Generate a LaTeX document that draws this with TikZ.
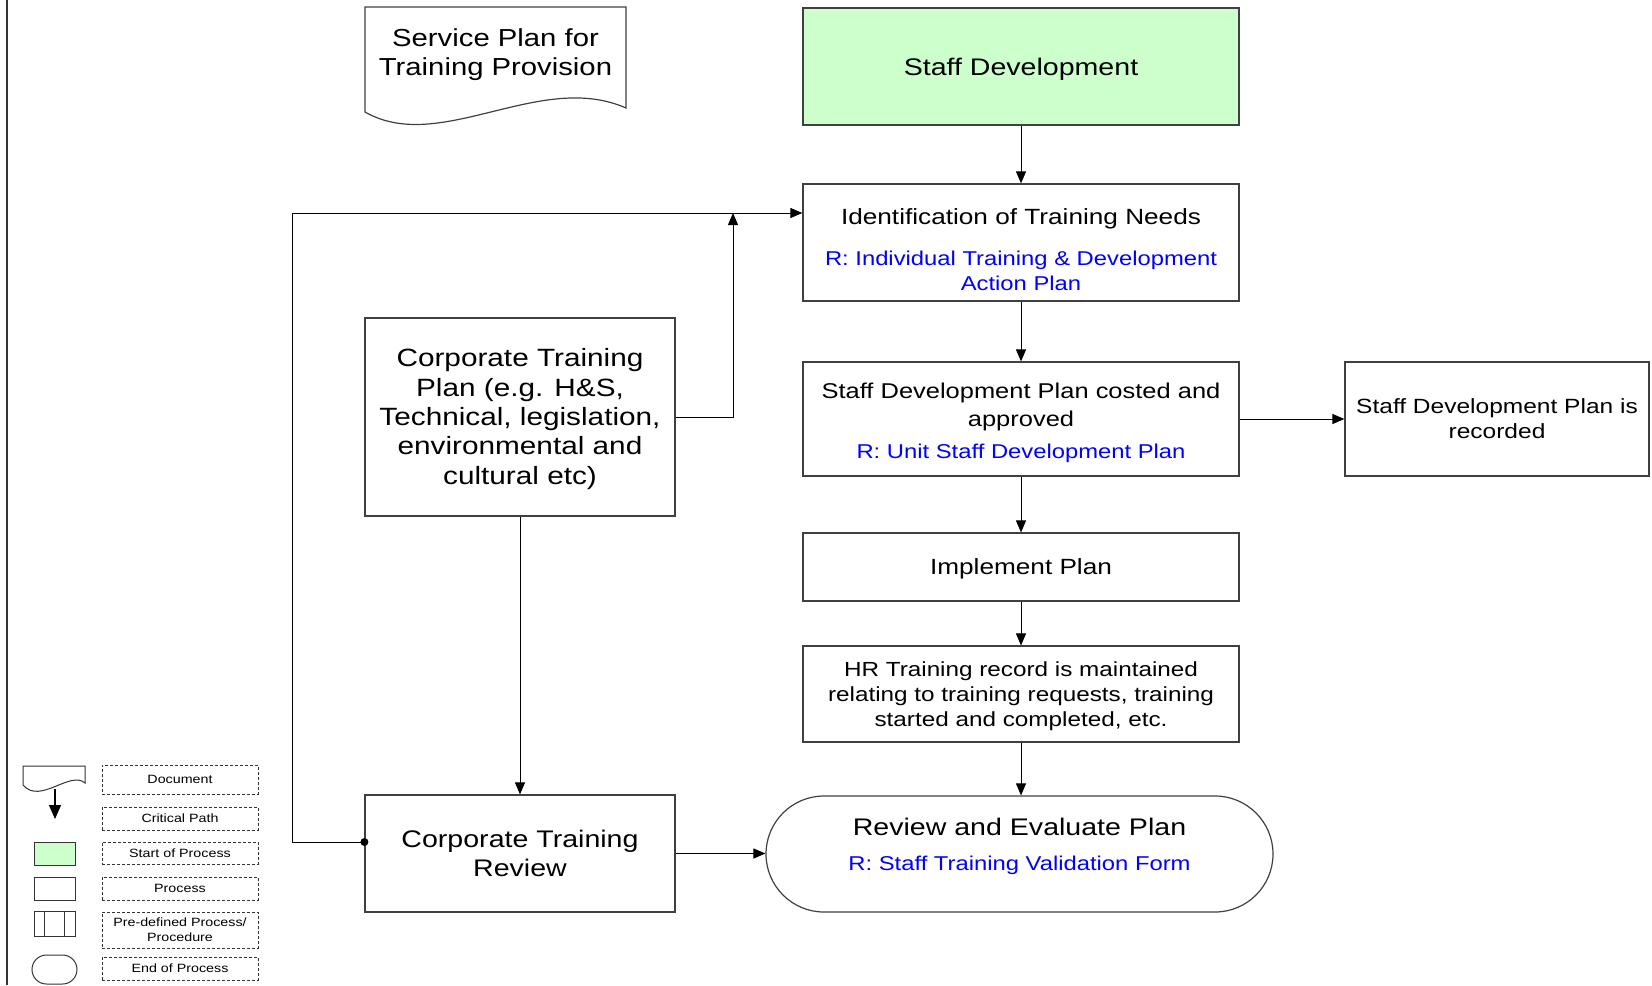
\documentclass[tikz,border=0pt]{standalone}
\usepackage{fontspec}
\setmainfont{Liberation Sans}[FakeStretch=1.19]
\usetikzlibrary{arrows.meta}
\definecolor{startgreen}{HTML}{CCFFCC}
\definecolor{refblue}{HTML}{0000FF}

\begin{document}
\begin{tikzpicture}[x=0.5pt, y=-0.5pt,
                    box/.style={draw=black!75, line width=0.6pt, rectangle, align=center, inner sep=2pt},
                    legbox/.style={draw=black!80, line width=0.4pt, dash pattern=on 1.5pt off 1pt,
                                   align=center, minimum width=78pt, inner sep=1pt,
                                   font=\fontsize{6}{7.5}\selectfont},
                    icon/.style={draw=black!80, line width=0.5pt, minimum width=20.5pt, minimum height=11.5pt, inner sep=0pt},
                    flow/.style={draw=black, line width=0.5pt, -{Triangle[length=6pt,width=5pt]}},
                    dot/.style={circle, fill=black, inner sep=0pt, minimum size=4pt}]
      \useasboundingbox (0,0) rectangle (1652,985);
      \draw[line width=1pt, black!80] (7,0) -- (7,985);

      % document shape
      \draw[draw=black!75, line width=0.6pt] (365,7) -- (626,7) -- (626,108)
            .. controls (540,70) and (440,155) .. (365,112) -- cycle;
      \node[align=center, font=\fontsize{12.3}{14.5}\selectfont] (spt) at (495.5,55)
            {Service Plan for\\ Training Provision};

      \node[box, fill=startgreen, minimum width=218pt, minimum height=58.5pt,
            font=\fontsize{12}{14}\selectfont] (sd) at (1021,66.5) {\rule{0pt}{11.8pt}Staff Development};
      \node[box, minimum width=218pt, minimum height=58.5pt,
            font=\fontsize{10}{12.5}\selectfont] (itn) at (1021,242.5)
            {\rule{0pt}{15.4pt}{\fontsize{11}{13}\selectfont Identification of Training Needs}\\[8pt]
             \textcolor{refblue}{R: Individual Training \& Development}\\
             \textcolor{refblue}{Action Plan}};
      \node[box, minimum width=218pt, minimum height=57pt,
            font=\fontsize{10.7}{14}\selectfont] (sdp) at (1021,419)
            {\rule{0pt}{11.8pt}Staff Development Plan costed and\\ approved\\[2pt]
             \textcolor{refblue}{\fontsize{10}{12}\selectfont R: Unit Staff Development Plan}};
      \node[box, minimum width=152pt, minimum height=57pt,
            font=\fontsize{10.3}{12.5}\selectfont] (rec) at (1497,419)
            {Staff Development Plan is\\ recorded};
      \node[box, minimum width=218pt, minimum height=34pt,
            font=\fontsize{11}{13}\selectfont] (imp) at (1021,567) {\rule{0pt}{10pt}Implement Plan};
      \node[box, minimum width=218pt, minimum height=48pt,
            font=\fontsize{10.2}{12.5}\selectfont] (hr) at (1021,694)
            {\rule{0pt}{9.5pt}HR Training record is maintained\\ relating to training requests, training\\
             started and completed, etc.};
      \node[box, rounded corners=29pt, minimum width=253.5pt, minimum height=58pt,
            font=\fontsize{10}{12.5}\selectfont] (rev) at (1019.5,854)
            {{\fontsize{12}{14}\selectfont Review and Evaluate Plan}\\[5pt]
             \textcolor{refblue}{R: Staff Training Validation Form}\rule[-10pt]{0pt}{0pt}};
      \node[box, minimum width=155pt, minimum height=99pt,
            font=\fontsize{12.5}{14.7}\selectfont] (ctp) at (520,417)
            {\rule{0pt}{11pt}Corporate Training\\ Plan (e.g. H\&S,\\ Technical, legislation,\\
             environmental and\\ cultural etc)};
      \node[box, minimum width=155pt, minimum height=58.5pt,
            font=\fontsize{12}{14.5}\selectfont] (ctr) at (520,853.5)
            {Corporate Training\\ Review};

      \coordinate (lt) at (292,213);
      \coordinate (lp) at (292,842);
      \coordinate (jn) at (733,213);
      \node[dot] (jd) at (lp -| ctr.west) {};

      \begin{scope}
          \draw[flow] (sd) -- (itn);
          \draw[flow] (itn) -- (sdp);
          \draw[flow] (sdp) -- (imp);
          \draw[flow] (imp) -- (hr);
          \draw[flow] (hr.south) -- (hr.south |- rev.north);
          \draw[flow] (sdp.east) -- (rec.west);
          \draw[flow] (ctp) -- (ctr);
          \draw[flow] (ctr.east) -- (ctr.east -| rev.west);
          \draw[flow] (ctp.east) -| (jn);
          \draw[flow] (jd.center) -- (lp) -- (lt) -- (lt -| itn.west);
      \end{scope}

      % legend
      \node[legbox, minimum height=14.5pt] (ldoc) at (180,779.5) {Document};
      \node[legbox, minimum height=11.5pt] (lcrit) at (180,818.5) {Critical Path};
      \node[legbox, minimum height=11pt] (lstart) at (180,853) {Start of Process};
      \node[legbox, minimum height=11.5pt] (lproc) at (180,888.5) {Process};
      \node[legbox, minimum height=18pt] (lpre) at (180,930) {Pre-defined Process/\\ Procedure};
      \node[legbox, minimum height=11.5pt] (lend) at (180,968.5) {End of Process};

      \draw[draw=black!80, line width=0.5pt] (23,766) -- (85,766) -- (85,783)
            .. controls (70,770) and (40,805) .. (23,785) -- cycle;
      \coordinate (ca) at (55,789);
      \coordinate (cb) at (55,819);
      \draw[line width=0.6pt, -{Triangle[length=7pt,width=6pt]}] (ca) -- (cb);
      \node[icon, fill=startgreen] (istart) at (54.5,853.5) {};
      \node[icon] (iproc) at (54.5,889) {};
      \node[icon, minimum height=12.5pt] (ipre) at (54.5,923.5) {};
      \draw[black!80, line width=0.5pt] ([xshift=5.5pt]ipre.north west) -- ([xshift=5.5pt]ipre.south west);
      \draw[black!80, line width=0.5pt] ([xshift=-5.5pt]ipre.north east) -- ([xshift=-5.5pt]ipre.south east);
      \node[icon, rounded corners=7.25pt, minimum width=22.5pt, minimum height=14.5pt] (iend) at (54.5,969.5) {};
    \end{tikzpicture}
\end{document}
